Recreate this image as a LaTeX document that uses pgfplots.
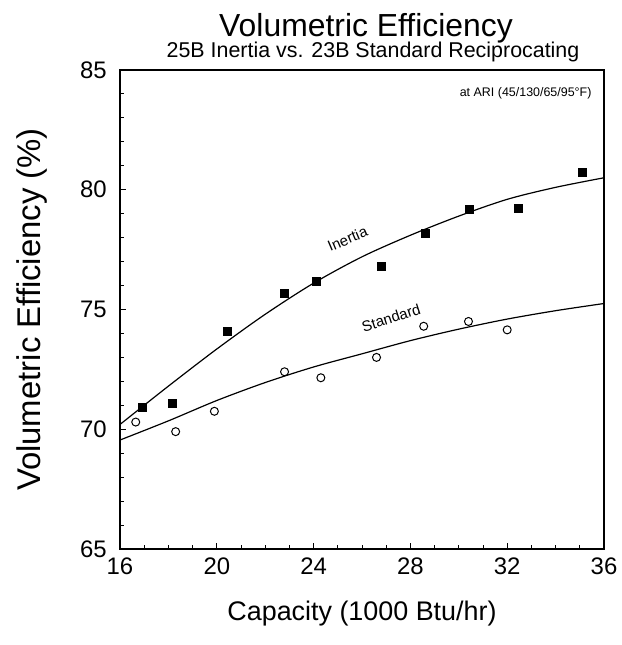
\documentclass[border=0pt]{standalone}
\usepackage{fontspec}
\setmainfont{Liberation Sans}
\usepackage{pgfplots}
\pgfplotsset{compat=1.18}
\usetikzlibrary{calc}

\begin{document}
\begin{tikzpicture}
\begin{axis}[
    width=484bp, height=479bp, scale only axis,
    xmin=16, xmax=36, ymin=65, ymax=85,
    xtick={16,20,...,36}, ytick={65,70,...,85},
    minor x tick num=3, minor y tick num=4,
    tick align=inside, xtick pos=bottom, ytick pos=left,
    major tick length=6bp, minor tick length=3.5bp,
    axis line style={line width=1.2bp},
    every tick/.style={line width=0.9bp, black},
    /pgf/number format/assume math mode=true,
    tick label style={font=\fontsize{24}{24}\selectfont},
    xticklabel style={inner sep=0pt, yshift=-9bp},
    yticklabel style={inner sep=0pt, xshift=-13bp},
    clip mode=individual,
]
% fitted curves
\addplot[black, line width=1.2bp, smooth] coordinates {
    (16,70.2) (18,71.8) (20,73.35) (22,74.8) (24,76.1) (26,77.2)
    (28,78.1) (30,78.9) (32,79.6) (34,80.1) (36,80.5)
};
\addplot[black, line width=1.2bp, smooth] coordinates {
    (16,69.55) (18,70.35) (20,71.2) (22,71.95) (24,72.6) (26,73.15)
    (28,73.7) (30,74.18) (32,74.6) (34,74.95) (36,75.25)
};
% measured points
\addplot[only marks, mark=square*, mark size=4bp, black] coordinates {
    (16.9,70.9) (18.15,71.1) (20.45,74.1) (22.8,75.7) (24.1,76.2)
    (26.8,76.8) (28.6,78.2) (30.45,79.2) (32.45,79.25) (35.1,80.75)
};
\addplot[only marks, mark=o, mark size=4bp, mark options={line width=1bp}, black] coordinates {
    (16.65,70.3) (18.3,69.9) (19.9,70.75) (22.8,72.4) (24.3,72.15)
    (26.6,73.0) (28.55,74.3) (30.4,74.5) (32.0,74.15)
};
\node[rotate=23, font=\fontsize{15}{15}\selectfont] at (axis cs:25.4,77.95) {Inertia};
\node[rotate=18, font=\fontsize{15}{15}\selectfont] at (axis cs:27.2,74.65) {Standard};
\node[anchor=base east, font=\fontsize{12.5}{12.5}\selectfont] at ($(rel axis cs:1,1)+(-9bp,-27bp)$) {at ARI (45/130/65/95°F)};
\coordinate (sw) at (rel axis cs:0,0);
\coordinate (ne) at (rel axis cs:1,1);
\end{axis}
\node[anchor=base, font=\fontsize{32}{32}\selectfont] at ($(sw|-ne)!0.5!(ne)+(4bp,33bp)$) {Volumetric Efficiency};
\node[anchor=base, font=\fontsize{21.5}{21.5}\selectfont] at ($(sw|-ne)!0.5!(ne)+(11bp,12bp)$) {25B Inertia vs. 23B Standard Reciprocating};
\node[rotate=90, font=\fontsize{33}{33}\selectfont] at ($(sw)!0.5!(sw|-ne)+(-88bp,0)$) {Volumetric Efficiency (\%)};
\node[anchor=base, font=\fontsize{27}{27}\selectfont] at ($(sw)!0.5!(sw-|ne)+(0,-71bp)$) {Capacity (1000 Btu/hr)};
\pgfresetboundingbox
\path ($(sw)+(-120bp,-96bp)$) rectangle ($(ne)+(18bp,70bp)$);
\end{tikzpicture}
\end{document}
